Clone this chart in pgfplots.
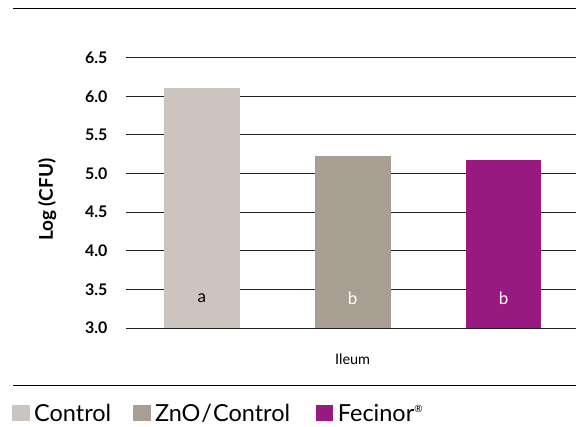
\documentclass[border=0pt]{standalone}
\usepackage{fontspec}
\setmainfont{Lato}
\usepackage{pgfplots}
\pgfplotsset{compat=1.18}
\definecolor{cctrl}{HTML}{CCC5BF}
\definecolor{czno}{HTML}{A89E92}
\definecolor{cfec}{HTML}{981A81}
\definecolor{cgrid}{HTML}{222222}
\begin{document}
\begin{tikzpicture}[x=1pt,y=1pt]
\path (0,0) rectangle (577,427);
\begin{axis}[
  at={(126pt,98.7pt)}, anchor=south west,
  scale only axis, width=451pt, height=270.6pt,
  xmin=-0.503, xmax=2.483, ymin=3, ymax=6.5,
  axis line style={draw=none},
  ymajorgrids, grid style={cgrid, line width=0.9pt},
  major tick length=0pt,
  ytick={3,3.5,...,6.5},
  xtick={1}, xticklabels={Ileum},
  xticklabel style={anchor=center, yshift=-31pt, font=\fontsize{14.5}{16}\selectfont},
  yticklabel style={anchor=east, xshift=-15pt, font=\fontsize{16}{18}\selectfont\bfseries},
  /pgf/number format/.cd, fixed, fixed zerofill, precision=1, assume math mode=true,
  /pgfplots/.cd,
  ylabel={Log (CFU)},
  every axis y label/.style={at={(axis description cs:-0.175,0.474)}, rotate=90, anchor=center, font=\fontsize{19}{21}\selectfont\bfseries},
]
\addplot[ybar, bar shift=0pt, bar width=0.503, fill=cctrl, draw=none] coordinates {(0,6.11)};
\addplot[ybar, bar shift=0pt, bar width=0.503, fill=czno, draw=none] coordinates {(1,5.23)};
\addplot[ybar, bar shift=0pt, bar width=0.503, fill=cfec, draw=none] coordinates {(2,5.18)};
\node[font=\fontsize{17}{19}\selectfont, text=black] at (axis cs:0,3.38) {a};
\node[font=\fontsize{17}{19}\selectfont, text=white] at (axis cs:1,3.38) {b};
\node[font=\fontsize{17}{19}\selectfont, text=white] at (axis cs:2,3.38) {b};
\end{axis}
\draw[black, line width=1.2pt] (13,418.3) -- (577,418.3);
\draw[black, line width=1.2pt] (13,41) -- (577,41);
\fill[cctrl] (12,6) rectangle (30,22);
\node[anchor=base west, inner sep=0pt, font=\fontsize{23.5}{26}\selectfont] at (34,5.5) {Control};
\fill[czno] (133,6) rectangle (151,22);
\node[anchor=base west, inner sep=0pt, font=\fontsize{23.5}{26}\selectfont] at (155,5.5) {ZnO\kern1pt/\kern1pt Control};
\fill[cfec] (316,6) rectangle (333,22);
\node[anchor=base west, inner sep=0pt, font=\fontsize{23.5}{26}\selectfont] at (338,5.5) {Fecinor\raisebox{9pt}{\fontsize{10}{12}\selectfont\textregistered}};
\end{tikzpicture}
\end{document}
